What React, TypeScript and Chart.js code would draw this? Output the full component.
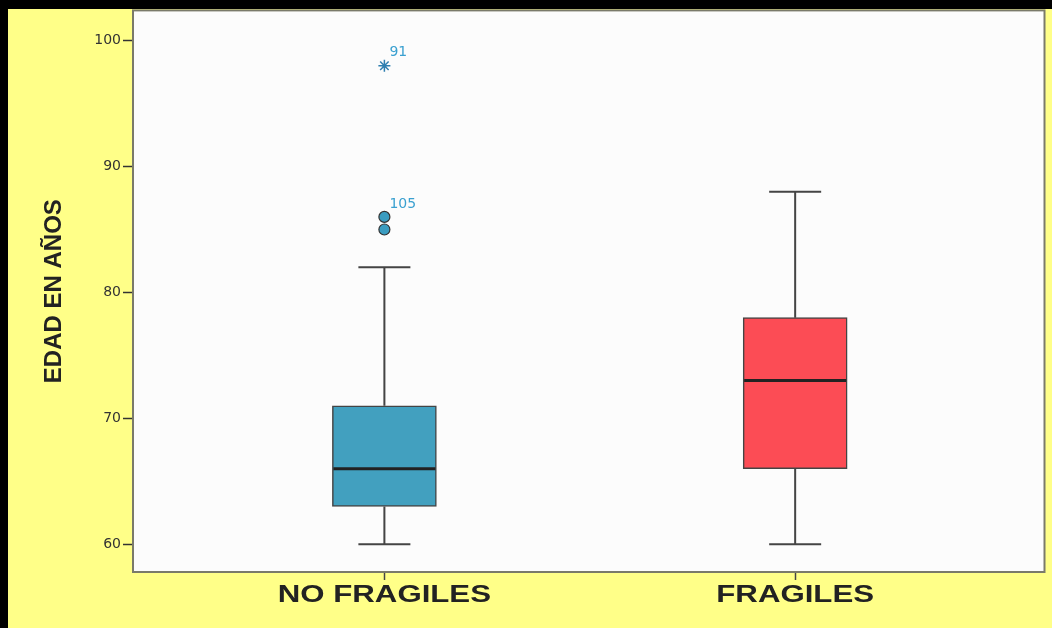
import React, { useEffect, useRef } from "react";
import { Chart, registerables } from "chart.js";

Chart.register(...registerables);

// Groups and five-number summaries (age in years)
const groups = ["NO FRAGILES", "FRAGILES"];
const positions = [1, 2];
const whiskerLow = [60, 60];
const q1 = [63, 66];
const median = [66, 73];
const q3 = [71, 78];
const whiskerHigh = [82, 88];
const boxColors = ["#42A0BF", "#FC4C55"];

// Outliers of the first group
const outlierValues = [85, 86];
const extremeValues = [98];
const outlierLabels = [
  { value: 86, text: "105" },
  { value: 98, text: "91" },
];

const yTicks = [60, 70, 80, 90, 100];

const boxPlotPlugin = {
  id: "boxPlotParts",
  beforeDatasetsDraw(chart: any) {
    const { ctx, chartArea } = chart;
    const xs = chart.scales.x;
    const ys = chart.scales.y;
    const meta = chart.getDatasetMeta(0);
    ctx.save();
    ctx.fillStyle = "#FCFCFC";
    ctx.fillRect(chartArea.left, chartArea.top, chartArea.width, chartArea.height);
    ctx.strokeStyle = "#444";
    ctx.lineWidth = 2;
    positions.forEach((p, i) => {
      const x = xs.getPixelForValue(p);
      const w = meta.data[i] ? meta.data[i].width : 100;
      const cap = w / 4;
      const yLo = ys.getPixelForValue(whiskerLow[i]);
      const yHi = ys.getPixelForValue(whiskerHigh[i]);
      const yQ1 = ys.getPixelForValue(q1[i]);
      const yQ3 = ys.getPixelForValue(q3[i]);
      ctx.beginPath();
      ctx.moveTo(x, yQ1);
      ctx.lineTo(x, yLo);
      ctx.moveTo(x, yQ3);
      ctx.lineTo(x, yHi);
      ctx.moveTo(x - cap, yLo);
      ctx.lineTo(x + cap, yLo);
      ctx.moveTo(x - cap, yHi);
      ctx.lineTo(x + cap, yHi);
      ctx.stroke();
    });
    ctx.restore();
  },
  afterDatasetsDraw(chart: any) {
    const { ctx, chartArea } = chart;
    const xs = chart.scales.x;
    const ys = chart.scales.y;
    const meta = chart.getDatasetMeta(0);
    ctx.save();
    // medians
    ctx.strokeStyle = "#222";
    ctx.lineWidth = 3;
    positions.forEach((p, i) => {
      const x = xs.getPixelForValue(p);
      const w = meta.data[i] ? meta.data[i].width : 100;
      const y = ys.getPixelForValue(median[i]);
      ctx.beginPath();
      ctx.moveTo(x - w / 2 + 1, y);
      ctx.lineTo(x + w / 2 - 1, y);
      ctx.stroke();
    });
    // outlier case labels
    ctx.fillStyle = "#3AA0D0";
    ctx.font = "14px 'DejaVu Sans', sans-serif";
    ctx.textBaseline = "middle";
    ctx.textAlign = "left";
    outlierLabels.forEach((l) => {
      const x = xs.getPixelForValue(positions[0]);
      const y = ys.getPixelForValue(l.value);
      ctx.fillText(l.text, x + 5, y - 13);
    });
    // frame around the plot area
    ctx.strokeStyle = "#7A7A6A";
    ctx.lineWidth = 2;
    ctx.strokeRect(chartArea.left, chartArea.top, chartArea.width, chartArea.height);
    // group labels, wide bold lettering
    ctx.fillStyle = "#222";
    ctx.font = "bold 24px 'Liberation Sans', Arial, sans-serif";
    ctx.textAlign = "center";
    ctx.textBaseline = "middle";
    groups.forEach((g, i) => {
      const x = xs.getPixelForValue(positions[i]);
      ctx.save();
      ctx.translate(x, chartArea.bottom + 23);
      ctx.scale(1.3, 1);
      ctx.fillText(g, 0, 0);
      ctx.restore();
    });
    ctx.restore();
  },
};

export default function App() {
  const canvasRef = useRef<HTMLCanvasElement | null>(null);

  useEffect(() => {
    if (!canvasRef.current) return;
    const chart = new Chart(canvasRef.current, {
      type: "bar",
      data: {
        datasets: [
          {
            type: "bar",
            data: positions.map((p, i) => ({ x: p, y: [q1[i], q3[i]] })) as any,
            backgroundColor: boxColors,
            borderColor: "#444",
            borderWidth: 1.5,
            borderSkipped: false,
            barThickness: 104,
            order: 2,
          } as any,
          {
            type: "scatter",
            data: outlierValues.map((v) => ({ x: positions[0], y: v })),
            pointStyle: "circle",
            pointRadius: 5.5,
            backgroundColor: "#3A9CC0",
            borderColor: "#333",
            borderWidth: 1.2,
            order: 1,
          } as any,
          {
            type: "scatter",
            data: extremeValues.map((v) => ({ x: positions[0], y: v })),
            pointStyle: "star",
            pointRadius: 6,
            borderColor: "#2F7FB0",
            borderWidth: 1.5,
            order: 1,
          } as any,
        ],
      },
      options: {
        animation: false,
        responsive: false,
        maintainAspectRatio: false,
        layout: { padding: { left: 0, top: 10, right: 5, bottom: 0 } },
        plugins: { legend: { display: false }, tooltip: { enabled: false } },
        scales: {
          x: {
            type: "linear",
            offset: false,
            min: 0.388,
            max: 2.607,
            afterBuildTicks: (s: any) => {
              s.ticks = positions.map((v) => ({ value: v }));
            },
            afterFit: (s: any) => {
              s.height = 56;
            },
            border: { display: false },
            grid: {
              offset: false,
              drawOnChartArea: false,
              drawTicks: true,
              tickLength: 8,
              tickColor: "#444",
              tickWidth: 1.5,
            },
            ticks: { callback: () => "", padding: 0 },
          },
          y: {
            type: "linear",
            min: 57.8,
            max: 102.4,
            afterBuildTicks: (s: any) => {
              s.ticks = yTicks.map((v) => ({ value: v }));
            },
            afterFit: (s: any) => {
              s.width = 133;
            },
            border: { display: false },
            grid: {
              drawOnChartArea: false,
              drawTicks: true,
              tickLength: 10,
              tickColor: "#333",
              tickWidth: 1.5,
            },
            ticks: {
              padding: 2,
              color: "#333",
              font: { family: "'DejaVu Sans', sans-serif", size: 14 },
            },
            title: {
              display: true,
              text: "EDAD EN AÑOS",
              color: "#222",
              font: { family: "'Liberation Sans', Arial, sans-serif", size: 24, weight: "bold" },
              padding: { top: 40, bottom: 0 },
            },
          },
        },
      } as any,
      plugins: [boxPlotPlugin],
    });
    return () => chart.destroy();
  }, []);

  return (
    <div
      style={{
        position: "fixed",
        left: 0,
        top: 0,
        width: 1052,
        height: 628,
        background: "#FFFF88",
        overflow: "hidden",
      }}
    >
      <canvas
        ref={canvasRef}
        width={1052}
        height={628}
        style={{ position: "absolute", left: 0, top: 0, width: 1052, height: 628 }}
      />
      <div style={{ position: "absolute", left: 0, top: 0, width: 8, height: 628, background: "#000" }} />
      <div style={{ position: "absolute", left: 0, top: 0, width: 1052, height: 9, background: "#000" }} />
    </div>
  );
}
